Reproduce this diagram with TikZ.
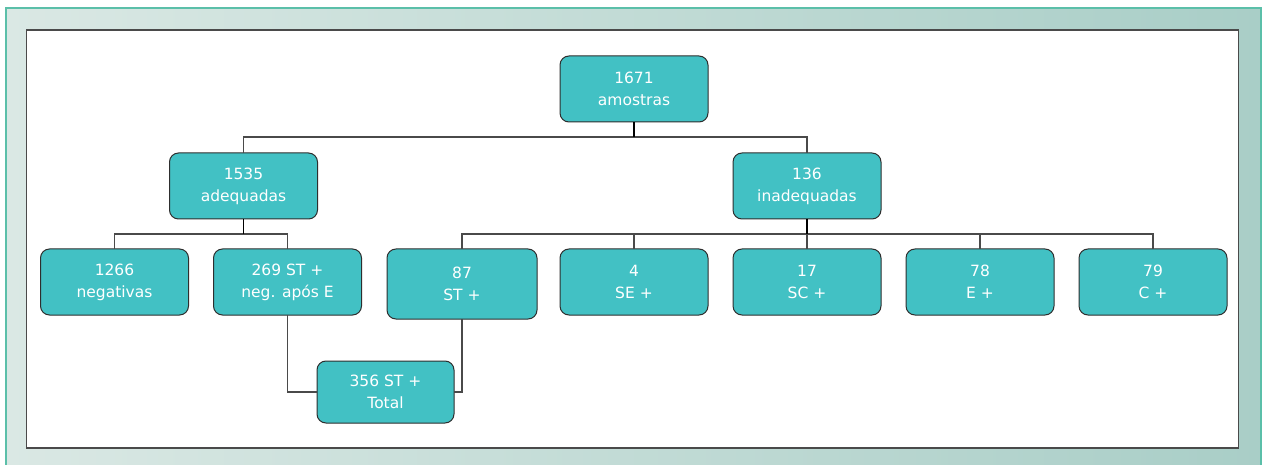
\documentclass[tikz,border=0pt]{standalone}
\usepackage{fontspec}
\usepackage{tikz}
\usetikzlibrary{positioning}
\newfontfamily\boxfont{DejaVu Sans}
\definecolor{boxfill}{HTML}{42C1C4}
\definecolor{boxline}{HTML}{2E2E2E}
\definecolor{framegreen}{HTML}{5BBFA9}
\definecolor{bgleft}{HTML}{DAE8E4}
\definecolor{bgmid}{HTML}{EBF3F1}
\definecolor{bgright}{HTML}{A9CEC7}
\definecolor{innerline}{HTML}{4A4A4A}
\tikzset{
  box/.style={draw=boxline, line width=1pt, fill=boxfill, rounded corners=9pt, text=white,
    align=center, minimum width=148pt, minimum height=66pt, inner sep=2pt, outer sep=0pt,
    font=\boxfont\fontsize{15.5}{22}\selectfont},
  link/.style={draw=innerline, line width=1.2pt},
  stem/.style={draw=black, line width=1.8pt}
}

\begin{document}
\begin{tikzpicture}[x=1pt, y=-1pt, node distance=25pt]
            \useasboundingbox (0,0) rectangle (1264,465);
            % background frame
            \fill[left color=bgleft, middle color=bgmid, right color=bgright] (6,8) rectangle (1261,466);
            \draw[framegreen, line width=1.5pt] (6,466) -- (6,8) -- (1261,8) -- (1261,466);
            \draw[innerline, fill=white, line width=1.5pt] (26.5,30) rectangle (1238.5,448);

            \node [box] (R) at (634,89) {1671\\amostras};
            \node [box] (A) at (243.5,186) {1535\\adequadas};
            \node [box] (N1) at (114.5,282) {1266\\negativas};
            \node [box, right=of N1] (N2) {269 ST +\\neg. após E};
            \node [box, minimum width=150pt, minimum height=70pt] (N3) at (462,284) {87\\ST +};
            \node [box] (N4) at (634,282) {4\\SE +};
            \node [box, right=of N4] (N5) {17\\SC +};
            \node [box, right=of N5] (N6) {78\\E +};
            \node [box, right=of N6] (N7) {79\\C +};
            \node [box, above=30pt of N5] (I) {136\\inadequadas};
            \node [box, minimum width=137pt, minimum height=62pt] (T) at (385.5,392) {356 ST +\\Total};

            \coordinate (bus1) at (634,137);
            \coordinate (bus2) at (243.5,234);
            \coordinate (bus3) at (807,234);

            \draw[link] (A.north) |- (bus1) -| (I.north);
            \draw[stem] (R) -- (bus1);
            \draw[link] (N1.north) |- (bus2) -| (N2.north);
            \draw[stem] (A) -- (bus2);
            \draw[link] (N3.north) |- (bus3) -| (N7.north);
            \foreach \n in {N4,N5,N6}
              \draw[link] (\n.north) -- (\n.north |- bus3);
            \draw[stem] (I) -- (bus3);
            \draw[link] (N2) |- (T);
            \draw[link] (N3) |- (T);
        \end{tikzpicture}
\end{document}
